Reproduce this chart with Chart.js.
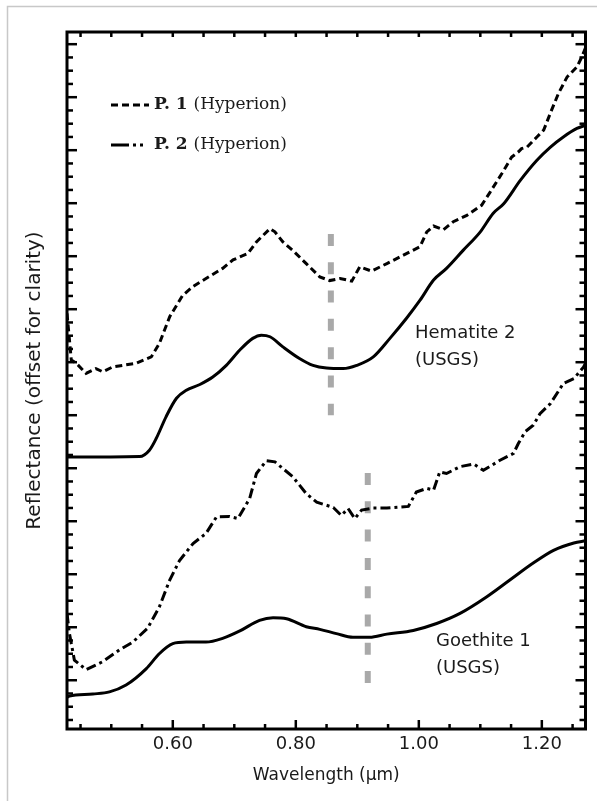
<!DOCTYPE html>
<html>
<head>
<meta charset="utf-8">
<title>Reflectance spectra</title>
<script src="https://cdn.jsdelivr.net/npm/chart.js@4.4.1/dist/chart.umd.min.js"></script>
<style>
    html, body { margin: 0; padding: 0; background: #fff; }
    #wrap { width: 597px; height: 801px; }
</style>
</head>
<body>
<div id="wrap"><canvas id="chart" width="597" height="801"></canvas></div>
<script>
// P. 1 (Hyperion) - dashed
const p1Wavelength = [0.428, 0.432, 0.435, 0.443, 0.459, 0.475, 0.486, 0.502, 0.540, 0.565,
    0.578, 0.595, 0.616, 0.633, 0.654, 0.681, 0.698, 0.722, 0.736, 0.758,
    0.766, 0.779, 0.795, 0.817, 0.839, 0.855, 0.872, 0.891, 0.904, 0.923,
    0.948, 0.975, 1.002, 1.013, 1.024, 1.040, 1.056, 1.078, 1.102, 1.116,
    1.135, 1.151, 1.162, 1.167, 1.176, 1.192, 1.203, 1.216, 1.227, 1.241,
    1.257, 1.265, 1.271];
const p1Reflectance = [6.92, 6.42, 6.04, 5.98, 5.79, 5.88, 5.82, 5.91, 5.98, 6.10,
    6.35, 6.86, 7.26, 7.43, 7.58, 7.77, 7.93, 8.05, 8.27, 8.52,
    8.46, 8.27, 8.11, 7.86, 7.61, 7.54, 7.58, 7.53, 7.80, 7.72,
    7.86, 8.02, 8.18, 8.46, 8.57, 8.50, 8.65, 8.77, 8.96, 9.21,
    9.56, 9.87, 9.97, 10.03, 10.06, 10.25, 10.38, 10.76, 11.07, 11.38,
    11.57, 11.76, 11.93];

// Hematite 2 (USGS)
const hemWavelength = [0.428, 0.546, 0.562, 0.573, 0.589, 0.606, 0.622, 0.644, 0.665, 0.687,
    0.709, 0.730, 0.744, 0.758, 0.779, 0.806, 0.828, 0.850, 0.877, 0.899,
    0.926, 0.953, 0.980, 1.002, 1.024, 1.045, 1.072, 1.100, 1.121, 1.138,
    1.165, 1.192, 1.214, 1.235, 1.257, 1.271];
const hemReflectance = [4.21, 4.22, 4.34, 4.56, 4.97, 5.32, 5.47, 5.58, 5.72, 5.94,
    6.23, 6.45, 6.51, 6.48, 6.29, 6.07, 5.94, 5.89, 5.88, 5.94,
    6.10, 6.45, 6.83, 7.17, 7.55, 7.77, 8.11, 8.46, 8.81, 8.99,
    9.43, 9.81, 10.06, 10.25, 10.41, 10.47];

// P. 2 (Hyperion) - dash dot
const p2Wavelength = [0.428, 0.432, 0.440, 0.459, 0.486, 0.513, 0.535, 0.559, 0.578, 0.595,
    0.611, 0.633, 0.654, 0.671, 0.692, 0.706, 0.725, 0.736, 0.752, 0.766,
    0.795, 0.817, 0.834, 0.861, 0.874, 0.885, 0.896, 0.907, 0.926, 0.948,
    0.983, 0.996, 1.013, 1.024, 1.034, 1.045, 1.067, 1.089, 1.105, 1.132,
    1.154, 1.162, 1.173, 1.186, 1.197, 1.214, 1.235, 1.252, 1.268, 1.271];
const p2Reflectance = [1.26, 0.88, 0.38, 0.20, 0.35, 0.57, 0.72, 0.98, 1.38, 1.89,
    2.26, 2.58, 2.77, 3.08, 3.09, 3.05, 3.43, 3.90, 4.14, 4.12,
    3.84, 3.52, 3.36, 3.26, 3.11, 3.24, 3.05, 3.21, 3.25, 3.25,
    3.28, 3.55, 3.62, 3.59, 3.93, 3.90, 4.03, 4.08, 3.96, 4.15,
    4.28, 4.47, 4.69, 4.81, 5.03, 5.22, 5.60, 5.69, 5.91, 5.98];

// Goethite 1 (USGS)
const goeWavelength = [0.428, 0.432, 0.470, 0.497, 0.524, 0.557, 0.578, 0.600, 0.622, 0.654,
    0.681, 0.709, 0.741, 0.763, 0.785, 0.817, 0.839, 0.866, 0.893, 0.920,
    0.948, 0.991, 1.029, 1.067, 1.110, 1.148, 1.186, 1.219, 1.252, 1.271];
const goeReflectance = [-0.32, -0.30, -0.26, -0.22, -0.09, 0.22, 0.50, 0.69, 0.72, 0.72,
    0.79, 0.93, 1.13, 1.18, 1.16, 1.01, 0.96, 0.88, 0.81, 0.81,
    0.87, 0.94, 1.07, 1.26, 1.57, 1.89, 2.21, 2.45, 2.59, 2.63];

// grey absorption markers
const hemMarkX = [0.857, 0.857];
const hemMarkY = [8.42, 5.0];
const goeMarkX = [0.917, 0.917];
const goeMarkY = [3.91, -0.06];

const xLabels = ["0.60", "0.80", "1.00", "1.20"];
const legendItems = [
    { name: "P. 1", note: "(Hyperion)", dash: [7, 4] },
    { name: "P. 2", note: "(Hyperion)", dash: [18, 4, 3, 4, 3, 10] }
];
const curveNotes = [
    { lines: ["Hematite 2", "(USGS)"], x: 415, y: 333 },
    { lines: ["Goethite 1", "(USGS)"], x: 436, y: 641 }
];

const toPoints = (xs, ys) => xs.map((x, i) => ({ x: x, y: ys[i] }));
const textColor = "#1a1a1a";

// ticks, frame, legend and labels
const decorations = {
    id: "decorations",
    beforeDraw(chart) {
        const ctx = chart.ctx;
        ctx.save();
        ctx.fillStyle = "#fff";
        ctx.fillRect(0, 0, chart.width, chart.height);
        ctx.strokeStyle = "#c8c8c8";
        ctx.lineWidth = 1.5;
        ctx.strokeRect(7.5, 6.5, 700, 900);
        ctx.restore();
    },
    afterDraw(chart) {
        const { ctx, chartArea: a, scales: { x, y } } = chart;
        ctx.save();
        ctx.strokeStyle = "#000";
        ctx.lineWidth = 2.5;
        const seg = (x1, y1, x2, y2) => {
            ctx.beginPath();
            ctx.moveTo(x1, y1);
            ctx.lineTo(x2, y2);
            ctx.stroke();
        };
        x.ticks.forEach(t => {
            const px = x.getPixelForValue(t.value);
            const major = Math.abs(t.value / 0.2 - Math.round(t.value / 0.2)) < 1e-6;
            seg(px, a.bottom, px, a.bottom - (major ? 9 : 5));
            seg(px, a.top, px, a.top + 5);
        });
        y.ticks.forEach(t => {
            const py = y.getPixelForValue(t.value);
            const len = Math.abs(t.value - Math.round(t.value)) < 1e-6 ? 10 : 6;
            seg(a.left, py, a.left + len, py);
            seg(a.right, py, a.right - len, py);
        });
        ctx.lineWidth = 3;
        ctx.strokeRect(a.left, a.top, a.right - a.left, a.bottom - a.top);

        // legend
        ctx.textBaseline = "middle";
        ctx.fillStyle = textColor;
        legendItems.forEach((item, i) => {
            const ly = 105 + i * 40;
            ctx.setLineDash(item.dash);
            ctx.lineWidth = 3;
            seg(111, ly, 149, ly);
            ctx.setLineDash([]);
            ctx.font = "bold 17px 'DejaVu Serif'";
            ctx.fillText(item.name, 154, ly);
            const w = ctx.measureText(item.name + " ").width;
            ctx.font = "17px 'DejaVu Serif'";
            ctx.fillText(item.note, 154 + w, ly);
        });

        ctx.font = "18px 'DejaVu Sans'";
        curveNotes.forEach(n => {
            n.lines.forEach((line, i) => ctx.fillText(line, n.x, n.y + i * 27));
        });
        ctx.restore();
    }
};

const ctx = document.getElementById("chart").getContext("2d");
new Chart(ctx, {
    type: "line",
    data: {
        datasets: [
            {
                label: "P. 1 (Hyperion)",
                data: toPoints(p1Wavelength, p1Reflectance),
                borderColor: "#000",
                borderWidth: 3,
                borderDash: [7, 4],
                tension: 0
            },
            {
                label: "Hematite 2 (USGS)",
                data: toPoints(hemWavelength, hemReflectance),
                borderColor: "#000",
                borderWidth: 3,
                cubicInterpolationMode: "monotone"
            },
            {
                label: "P. 2 (Hyperion)",
                data: toPoints(p2Wavelength, p2Reflectance),
                borderColor: "#000",
                borderWidth: 3,
                borderDash: [10, 4, 3, 4],
                tension: 0
            },
            {
                label: "Goethite 1 (USGS)",
                data: toPoints(goeWavelength, goeReflectance),
                borderColor: "#000",
                borderWidth: 3,
                cubicInterpolationMode: "monotone"
            },
            {
                label: "hematite band",
                data: toPoints(hemMarkX, hemMarkY),
                borderColor: "#a9a9a9",
                borderWidth: 6,
                borderDash: [12, 16.3]
            },
            {
                label: "goethite band",
                data: toPoints(goeMarkX, goeMarkY),
                borderColor: "#a9a9a9",
                borderWidth: 6,
                borderDash: [12, 16.3]
            }
        ]
    },
    options: {
        responsive: false,
        animation: false,
        devicePixelRatio: 1,
        elements: { point: { radius: 0 } },
        layout: { padding: { top: 32, right: 11.5, bottom: 0, left: 0 } },
        plugins: {
            legend: { display: false },
            tooltip: { enabled: false }
        },
        scales: {
            x: {
                type: "linear",
                min: 0.428,
                max: 1.271,
                grid: { display: false, drawTicks: false },
                border: { display: false },
                ticks: {
                    stepSize: 0.05,
                    includeBounds: false,
                    autoSkip: false,
                    maxRotation: 0,
                    padding: 5,
                    color: textColor,
                    font: { family: "DejaVu Sans", size: 18 },
                    callback: value => {
                        const label = value.toFixed(2);
                        return xLabels.includes(label) ? label : "";
                    }
                },
                title: {
                    display: true,
                    text: "Wavelength (µm)",
                    color: textColor,
                    font: { family: "DejaVu Sans", size: 17 },
                    padding: { top: 0, bottom: 15 }
                },
                afterFit: scale => { scale.height = 72; }
            },
            y: {
                type: "linear",
                min: -0.92,
                max: 12.23,
                grid: { display: false, drawTicks: false },
                border: { display: false },
                ticks: { display: false, stepSize: 0.25, includeBounds: false },
                title: {
                    display: true,
                    text: "Reflectance (offset for clarity)",
                    color: textColor,
                    font: { family: "DejaVu Sans", size: 20 },
                    padding: { top: 23, bottom: 0 }
                },
                afterFit: scale => { scale.width = 67; }
            }
        }
    },
    plugins: [decorations]
});
</script>
</body>
</html>
